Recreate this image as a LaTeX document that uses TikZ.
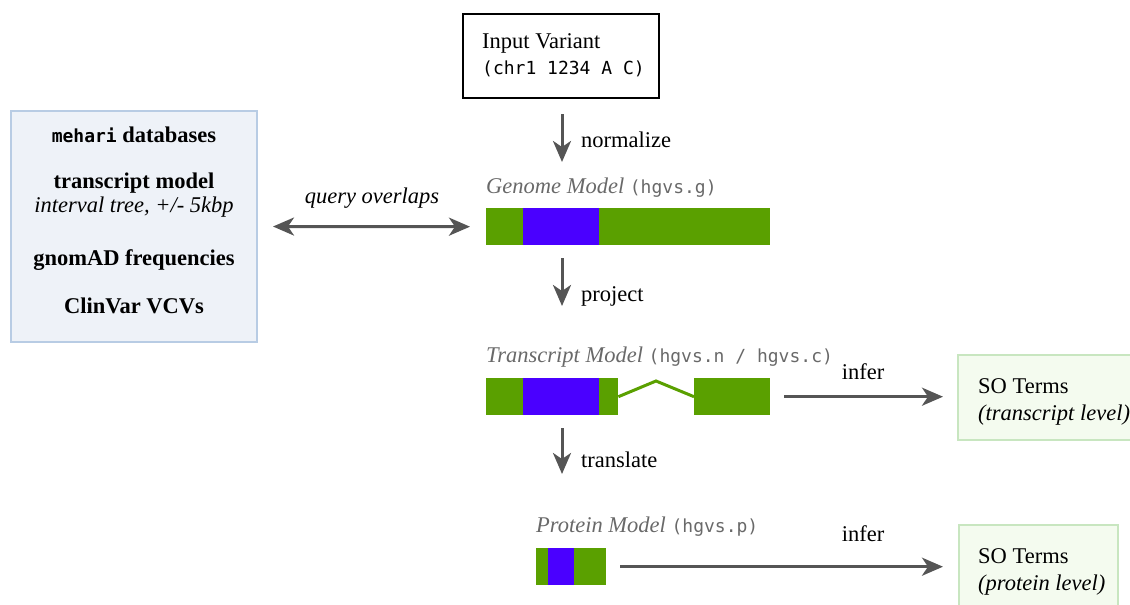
\documentclass[tikz,border=0pt]{standalone}
\usepackage{fontspec}
\setmainfont{Liberation Serif}
\setmonofont{DejaVu Sans Mono}
\usetikzlibrary{arrows.meta,positioning}
\definecolor{exongreen}{RGB}{90,160,0}
\definecolor{cdsblue}{RGB}{74,0,255}
\definecolor{labelgray}{RGB}{105,105,105}
\definecolor{arrowgray}{RGB}{85,85,85}
\definecolor{dbfill}{RGB}{238,242,248}
\definecolor{dbline}{RGB}{184,204,228}
\definecolor{sofill}{RGB}{244,251,239}
\definecolor{soline}{RGB}{200,230,192}
\tikzset
{
	big text/.style={font=\fontsize{22.5}{26}\selectfont},
	model label/.style={anchor=base west,inner sep=0pt,text=labelgray,font=\fontsize{22.5}{26}\selectfont},
	step label/.style={anchor=base west,inner sep=0pt,font=\fontsize{22.5}{26}\selectfont},
	db text/.style={anchor=base,inner sep=0pt,font=\fontsize{22.5}{26}\selectfont\bfseries},
	flow/.style={draw=arrowgray,line width=3pt,-{Stealth[length=21pt,width=18pt,inset=6pt]}},
	exon/.style={fill=exongreen,draw=none,inner sep=0pt,anchor=north west},
	cds/.style={fill=cdsblue,draw=none,inner sep=0pt,anchor=north west},
	so box/.style={fill=sofill,draw=soline,line width=2pt,inner sep=0pt,anchor=north west}
}
\newcommand{\mono}[1]{{\fontsize{18}{20}\ttfamily #1}}

\begin{document}
\begin{tikzpicture}[x=1pt,y=-1pt]
		\useasboundingbox (0,0) rectangle (1130,605);
		% input variant
		\node[draw=black,line width=2.2pt,minimum width=196pt,minimum height=84pt,inner sep=0pt] (input) at (561,56) {};
		\node[step label] (inputa) at (482,48) {Input Variant};
		\node[step label] (inputb) at (482,74) {\mono{(chr1 1234 A C)}};
		% databases
		\node[fill=dbfill,draw=dbline,line width=2pt,minimum width=246pt,minimum height=231pt,inner sep=0pt] (db) at (134,226.5) {};
		\node[db text] (dba) at (134,142) {{\fontsize{18}{20}\ttfamily\bfseries mehari} databases};
		\node[db text] (dbb) at (134,188) {transcript model};
		\node[db text,font=\fontsize{22.5}{26}\selectfont\itshape] (dbc) at (134,212) {interval tree, +/- 5kbp};
		\node[db text] (dbd) at (134,265) {gnomAD frequencies};
		\node[db text] (dbe) at (134,313) {ClinVar VCVs};
		% genome model
		\node[model label] (glab) at (486,193) {\textit{Genome Model} \mono{(hgvs.g)}};
		\node[exon,minimum width=284pt,minimum height=37pt] (genome) at (486,208) {};
		\node[cds,minimum width=76pt,minimum height=37pt] (gcds) at (523,208) {};
		% transcript model
		\node[model label] (tlab) at (486,362) {\textit{Transcript Model} \mono{(hgvs.n / hgvs.c)}};
		\node[exon,minimum width=132pt,minimum height=37pt] (tx1) at (486,378) {};
		\node[cds,minimum width=76pt,minimum height=37pt] (tcds) at (523,378) {};
		\node[exon,minimum width=76pt,minimum height=37pt] (tx2) at (694,378) {};
		\draw[exongreen,line width=3pt] (tx1.east) -- (656,381) -- (tx2.west);
		% protein model
		\node[model label] (plab) at (536,532) {\textit{Protein Model} \mono{(hgvs.p)}};
		\node[exon,minimum width=70pt,minimum height=37pt] (prot) at (536,548) {};
		\node[cds,minimum width=26pt,minimum height=37pt] (pcds) at (548,548) {};
		% so terms
		\node[so box,minimum width=200pt,minimum height=85pt] (so1) at (957,354) {};
		\node[step label] at (978,393) {SO Terms};
		\node[step label] at (978,420) {\textit{(transcript level)}};
		\node[so box,minimum width=159pt,minimum height=100pt] (so2) at (958,524) {};
		\node[step label] at (978,563) {SO Terms};
		\node[step label] at (978,590) {\textit{(protein level)}};
		% arrows
		\coordinate (n1) at (562,114);
		\coordinate (n2) at (562,162);
		\coordinate (p1) at (562,258);
		\coordinate (p2) at (562,306);
		\coordinate (t1) at (562,428);
		\coordinate (t2) at (562,474);
		\draw[flow] (n1) -- (n2);
		\draw[flow] (p1) -- (p2);
		\draw[flow] (t1) -- (t2);
		\node[step label] at (581,147) {normalize};
		\node[step label] at (581,301) {project};
		\node[step label] at (581,467) {translate};
		\draw[flow,{Stealth[length=21pt,width=18pt,inset=6pt]}-{Stealth[length=21pt,width=18pt,inset=6pt]},shorten <=15pt,shorten >=16pt] (db.east) -- (genome.west);
		\node[anchor=base,inner sep=0pt,font=\fontsize{22.5}{26}\selectfont\itshape] at (372,203) {query overlaps};
		\draw[flow,shorten <=14pt,shorten >=14pt] (tx2.east) -- (so1.west |- tx2.east);
		\node[anchor=base,inner sep=0pt,big text] at (863,379) {infer};
		\draw[flow,shorten <=14pt,shorten >=15pt] (prot.east) -- (so2.west |- prot.east);
		\node[anchor=base,inner sep=0pt,big text] at (863,541) {infer};
	\end{tikzpicture}
\end{document}
